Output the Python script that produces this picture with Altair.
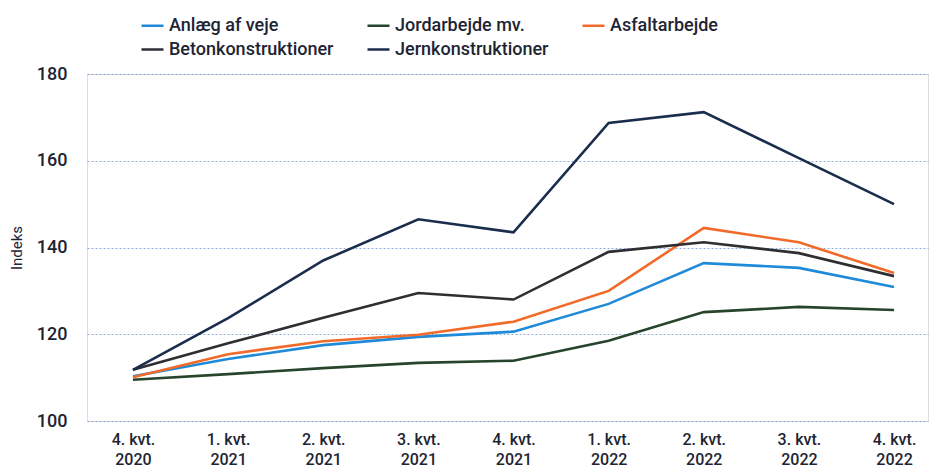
import altair as alt
import pandas as pd

quarters = ["4. kvt.|2020", "1. kvt.|2021", "2. kvt.|2021", "3. kvt.|2021", "4. kvt.|2021",
            "1. kvt.|2022", "2. kvt.|2022", "3. kvt.|2022", "4. kvt.|2022"]

series_names = ["Anlæg af veje", "Jordarbejde mv.", "Asfaltarbejde",
                "Betonkonstruktioner", "Jernkonstruktioner"]

anlaeg = [110.3, 114.3, 117.5, 119.4, 120.6, 127.0, 136.4, 135.3, 130.9]
jord = [109.5, 110.8, 112.2, 113.4, 113.9, 118.5, 125.1, 126.3, 125.6]
asfalt = [110.1, 115.4, 118.4, 119.9, 122.9, 130.0, 144.5, 141.2, 134.1]
beton = [111.8, 117.9, 123.8, 129.5, 128.0, 139.0, 141.2, 138.7, 133.4]
jern = [111.8, 123.7, 137.0, 146.5, 143.5, 168.7, 171.2, 160.6, 150.0]

colors = ["#1f8ad8", "#27442c", "#f26a2a", "#2e2e33", "#1b2d4d"]

values = [anlaeg, jord, asfalt, beton, jern]
rows = []
for name, vals in zip(series_names, values):
    for q, v in zip(quarters, vals):
        rows.append({"kvartal": q, "serie": name, "indeks": v})
df = pd.DataFrame(rows)

FONT = "Roboto"
TXT = "#1d2433"

chart = alt.Chart(df).mark_line(strokeWidth=2.6).encode(
    x=alt.X("kvartal:N", sort=quarters, title=None,
            scale=alt.Scale(type="point", padding=0.42, align=0.575),
            axis=alt.Axis(labelExpr="split(datum.value, '|')", labelAngle=0,
                          labelFontSize=16, labelFont=FONT, labelFontWeight=500,
                          labelColor=TXT, labelPadding=10, labelLineHeight=20,
                          ticks=False, domain=False, grid=False)),
    y=alt.Y("indeks:Q", title="Indeks",
            scale=alt.Scale(domain=[100, 180], nice=False, zero=False),
            axis=alt.Axis(values=[100, 120, 140, 160, 180], labelFontSize=18,
                          labelFont=FONT, labelFontWeight=500, labelColor=TXT,
                          labelPadding=20, ticks=False, domain=False,
                          titleFont=FONT, titleFontSize=15, titleFontWeight="normal",
                          titleColor=TXT, titlePadding=12,
                          grid=True, gridColor="#6f98d8", gridDash=[2, 2],
                          gridWidth=1, gridOpacity=0.8)),
    color=alt.Color("serie:N", sort=series_names,
                    scale=alt.Scale(domain=series_names, range=colors),
                    legend=alt.Legend(title=None, orient="none", legendX=53, legendY=-61,
                                      columns=3, direction="horizontal",
                                      symbolType="stroke", symbolSize=484,
                                      symbolStrokeWidth=2.5, labelFont=FONT,
                                      labelFontSize=18, labelFontWeight=500,
                                      labelColor=TXT, labelOffset=4,
                                      columnPadding=28, rowPadding=2,
                                      labelLimit=400)),
).properties(
    width=841, height=347,
    autosize=alt.AutoSizeParams(type="none"),
    padding={"left": 87, "top": 74, "right": 3, "bottom": 51},
).configure_view(stroke=None).configure(background="white")

chart.save("out.html", embed_options={"renderer": "svg", "actions": False})
